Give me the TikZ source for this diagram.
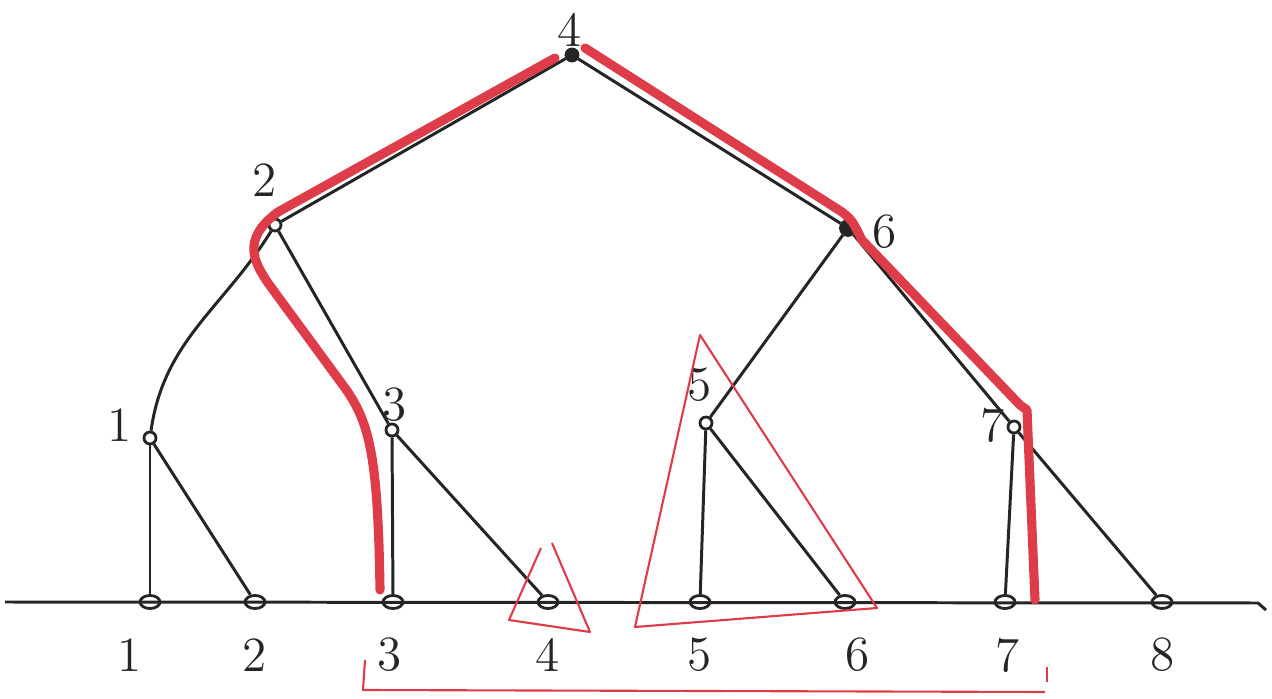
\documentclass[tikz,border=0pt]{standalone}
\usetikzlibrary{shapes.geometric}
\definecolor{penred}{RGB}{222,60,72}
\definecolor{penblack}{RGB}{35,38,36}

\begin{document}
\begin{tikzpicture}[scale=1, >=latex,
    inner/.style={circle, draw=penblack, line width=0.8pt, inner sep=0pt, minimum size=0.12cm},
    leaf/.style={ellipse, draw=penblack, line width=0.8pt, inner sep=0pt, minimum width=0.2cm, minimum height=0.13cm},
    edge/.style={penblack, line width=0.85pt},
    num/.style={font=\fontsize{14}{16}\selectfont, text=penblack},
    redpath/.style={penred, line width=2.6pt, line cap=round, line join=round},
    redline/.style={penred, line width=0.6pt, line join=round}]

\useasboundingbox (0,0) rectangle (12.72,6.98);

% ==== BASELINE ====
\draw[edge] (0.05,0.96) -- (12.58,0.95) -- (12.66,0.88);

% ==== INNER NODES ====
\node[inner, fill=penblack] (n4) at (5.72,6.43) {};
\node[inner] (n2) at (2.75,4.73) {};
\node[inner, fill=penblack, minimum size=0.15cm] (n6) at (8.48,4.70) {};
\node[inner] (n1) at (1.50,2.60) {};
\node[inner] (n3) at (3.92,2.68) {};
\node[inner] (n5) at (7.06,2.75) {};
\node[inner] (n7) at (10.14,2.71) {};

\node[num] (t4) at (5.70,6.68) {4};
\node[num] (t2) at (2.65,5.18) {2};
\node[num] (t6) at (8.85,4.66) {6};
\node[num] (t1) at (1.20,2.73) {1};
\node[num] (t3) at (3.95,2.93) {3};
\node[num] (t5) at (7.00,3.13) {5};
\node[num] (t7) at (9.93,2.73) {7};

% ==== LEAVES ====
\foreach \i/\x/\lx in {1/1.50/1.30, 2/2.55/2.55, 3/3.93/3.90, 4/5.48/5.48,
                       5/7.00/7.00, 6/8.45/8.58, 7/10.05/10.08, 8/11.62/11.63}{
    \node[leaf] (l\i) at (\x,0.96) {};
    \node[num] (b\i) at (\lx,0.43) {\i};
}

% ==== EDGES ====
\draw[edge] (n4) -- (n2);
\draw[edge] (n4) -- (n6);
\draw[edge] (n2) to[out=-122,in=82] (n1);
\draw[edge] (n2) -- (n3);
\draw[edge] (n6) -- (n5);
\draw[edge] (n6) -- (n7);
\draw[edge] (n1) -- (l1);
\draw[edge] (n1) -- (l2);
\draw[edge] (n3) -- (l3);
\draw[edge] (n3) -- (l4);
\draw[edge] (n5) -- (l5);
\draw[edge] (n5) -- (l6);
\draw[edge] (n7) -- (l7);
\draw[edge] (n7) -- (l8);

% ==== RED MARKINGS ====
\draw[redpath] (3.80,1.08) .. controls (3.78,2.40) and (3.70,2.75) .. (3.45,3.10)
    -- (2.68,4.15) .. controls (2.55,4.35) and (2.40,4.58) .. (2.78,4.86) -- (5.55,6.40);
\draw[redpath] (5.85,6.50) -- (8.42,4.86) .. controls (8.52,4.78) .. (8.62,4.58)
    -- (10.20,2.93) -- (10.27,2.88) -- (10.35,0.98);

\draw[redline] (5.41,1.50) -- (5.09,0.78) -- (5.90,0.66) -- (5.52,1.55);
\draw[redline] (7.00,3.63) -- (6.35,0.71) -- (8.77,0.90) -- cycle;

\draw[redline] (3.65,0.38) -- (3.63,0.08) -- (10.45,0.06);
\draw[redline] (10.47,0.16) -- (10.47,0.31);

\end{tikzpicture}
\end{document}
